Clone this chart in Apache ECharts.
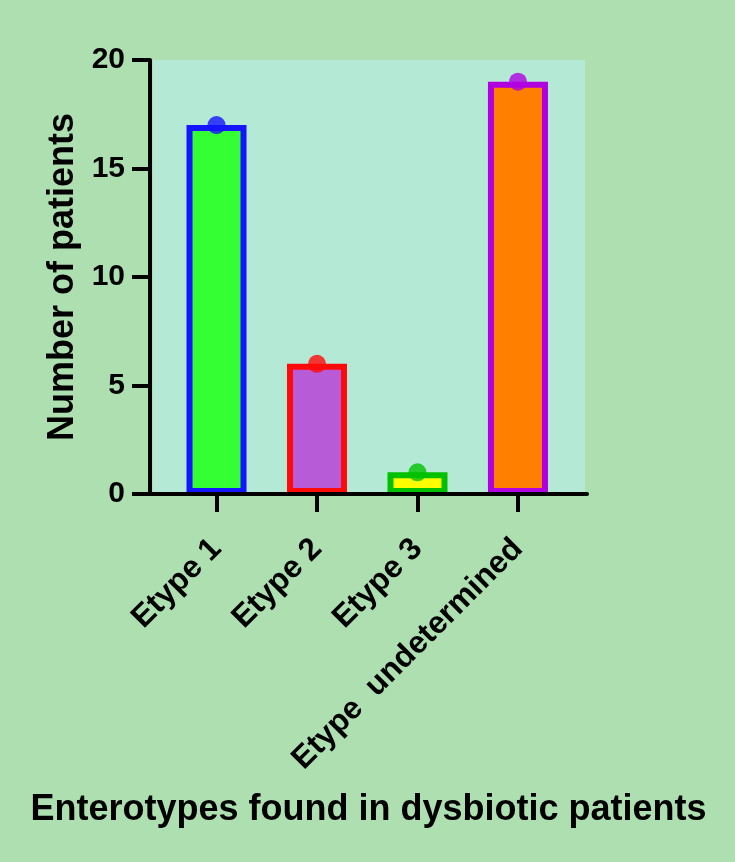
<!DOCTYPE html>
<html>
<head>
<meta charset="utf-8">
<script src="https://cdn.jsdelivr.net/npm/echarts@6/dist/echarts.min.js"></script>
<style>
html,body{margin:0;padding:0;background:#aedfb0;}
#c{width:735px;height:862px;}
</style>
</head>
<body>
<div id="c"></div>
<script>
// ---- data ----
const categories = ['Etype 1', 'Etype 2', 'Etype 3', 'Etype  undetermined'];
const patients = [17, 6, 1, 19];
const fillColors = ['#33ff33', '#b85bd6', '#ffff00', '#ff8000'];
const borderColors = ['#1414ff', '#ff0a0a', '#00c000', '#b000e0'];
const yTicks = [0, 5, 10, 15, 20];
const yTitle = 'Number of patients';
const xTitle = 'Enterotypes found in dysbiotic patients';

const positions = categories.map((c, i) => i);
const font = 'Arial, "Liberation Sans", Helvetica, sans-serif';

const chart = echarts.init(document.getElementById('c'));
chart.setOption({
  backgroundColor: '#aedfb0',
  animation: false,
  grid: [
    {left: 153, right: 150, top: 60, bottom: 368, show: true, backgroundColor: '#b4e9d6', borderWidth: 0},
    {left: 150, right: 148, top: 60, bottom: 368}
  ],
  xAxis: [
    {gridIndex: 0, type: 'value', show: false, min: 0, max: 1},
    {
      gridIndex: 1, type: 'value', min: -0.662, max: 3.687, z: 5,
      name: xTitle, nameLocation: 'middle', nameGap: 298,
      nameTextStyle: {fontFamily: font, fontSize: 36, fontWeight: 'bold', color: '#000'},
      axisLine: {show: true, onZero: false, lineStyle: {color: '#000', width: 4}},
      axisTick: {show: true, length: 18, lineStyle: {color: '#000', width: 4}, customValues: positions},
      axisLabel: {
        show: true, rotate: 45, margin: 50, customValues: positions,
        fontFamily: font, fontSize: 31.5, fontWeight: 'bold', color: '#000',
        formatter: v => categories[Math.round(v)]
      },
      splitLine: {show: false}
    }
  ],
  yAxis: [
    {gridIndex: 0, type: 'value', show: false, min: 0, max: 1},
    {
      gridIndex: 1, type: 'value', min: yTicks[0], max: yTicks[yTicks.length - 1], interval: 5, z: 5,
      name: yTitle, nameLocation: 'middle', nameGap: 69, nameRotate: 90,
      nameTextStyle: {fontFamily: font, fontSize: 36, fontWeight: 'bold', color: '#000'},
      axisLine: {show: true, onZero: false, lineStyle: {color: '#000', width: 4}},
      axisTick: {show: true, length: 18, lineStyle: {color: '#000', width: 4}},
      axisLabel: {margin: 25, fontFamily: font, fontSize: 30, fontWeight: 'bold', color: '#000'},
      splitLine: {show: false}
    }
  ],
  series: [
    {
      type: 'bar', xAxisIndex: 1, yAxisIndex: 1, barWidth: 60,
      data: patients.map((v, i) => ({
        value: [positions[i], v],
        itemStyle: {color: fillColors[i], borderColor: borderColors[i], borderWidth: 6}
      }))
    },
    {
      type: 'scatter', xAxisIndex: 1, yAxisIndex: 1, symbol: 'circle', symbolSize: 18, z: 4,
      data: patients.map((v, i) => ({
        value: [positions[i], v],
        itemStyle: {color: borderColors[i]}
      }))
    }
  ]
});
</script>
</body>
</html>
